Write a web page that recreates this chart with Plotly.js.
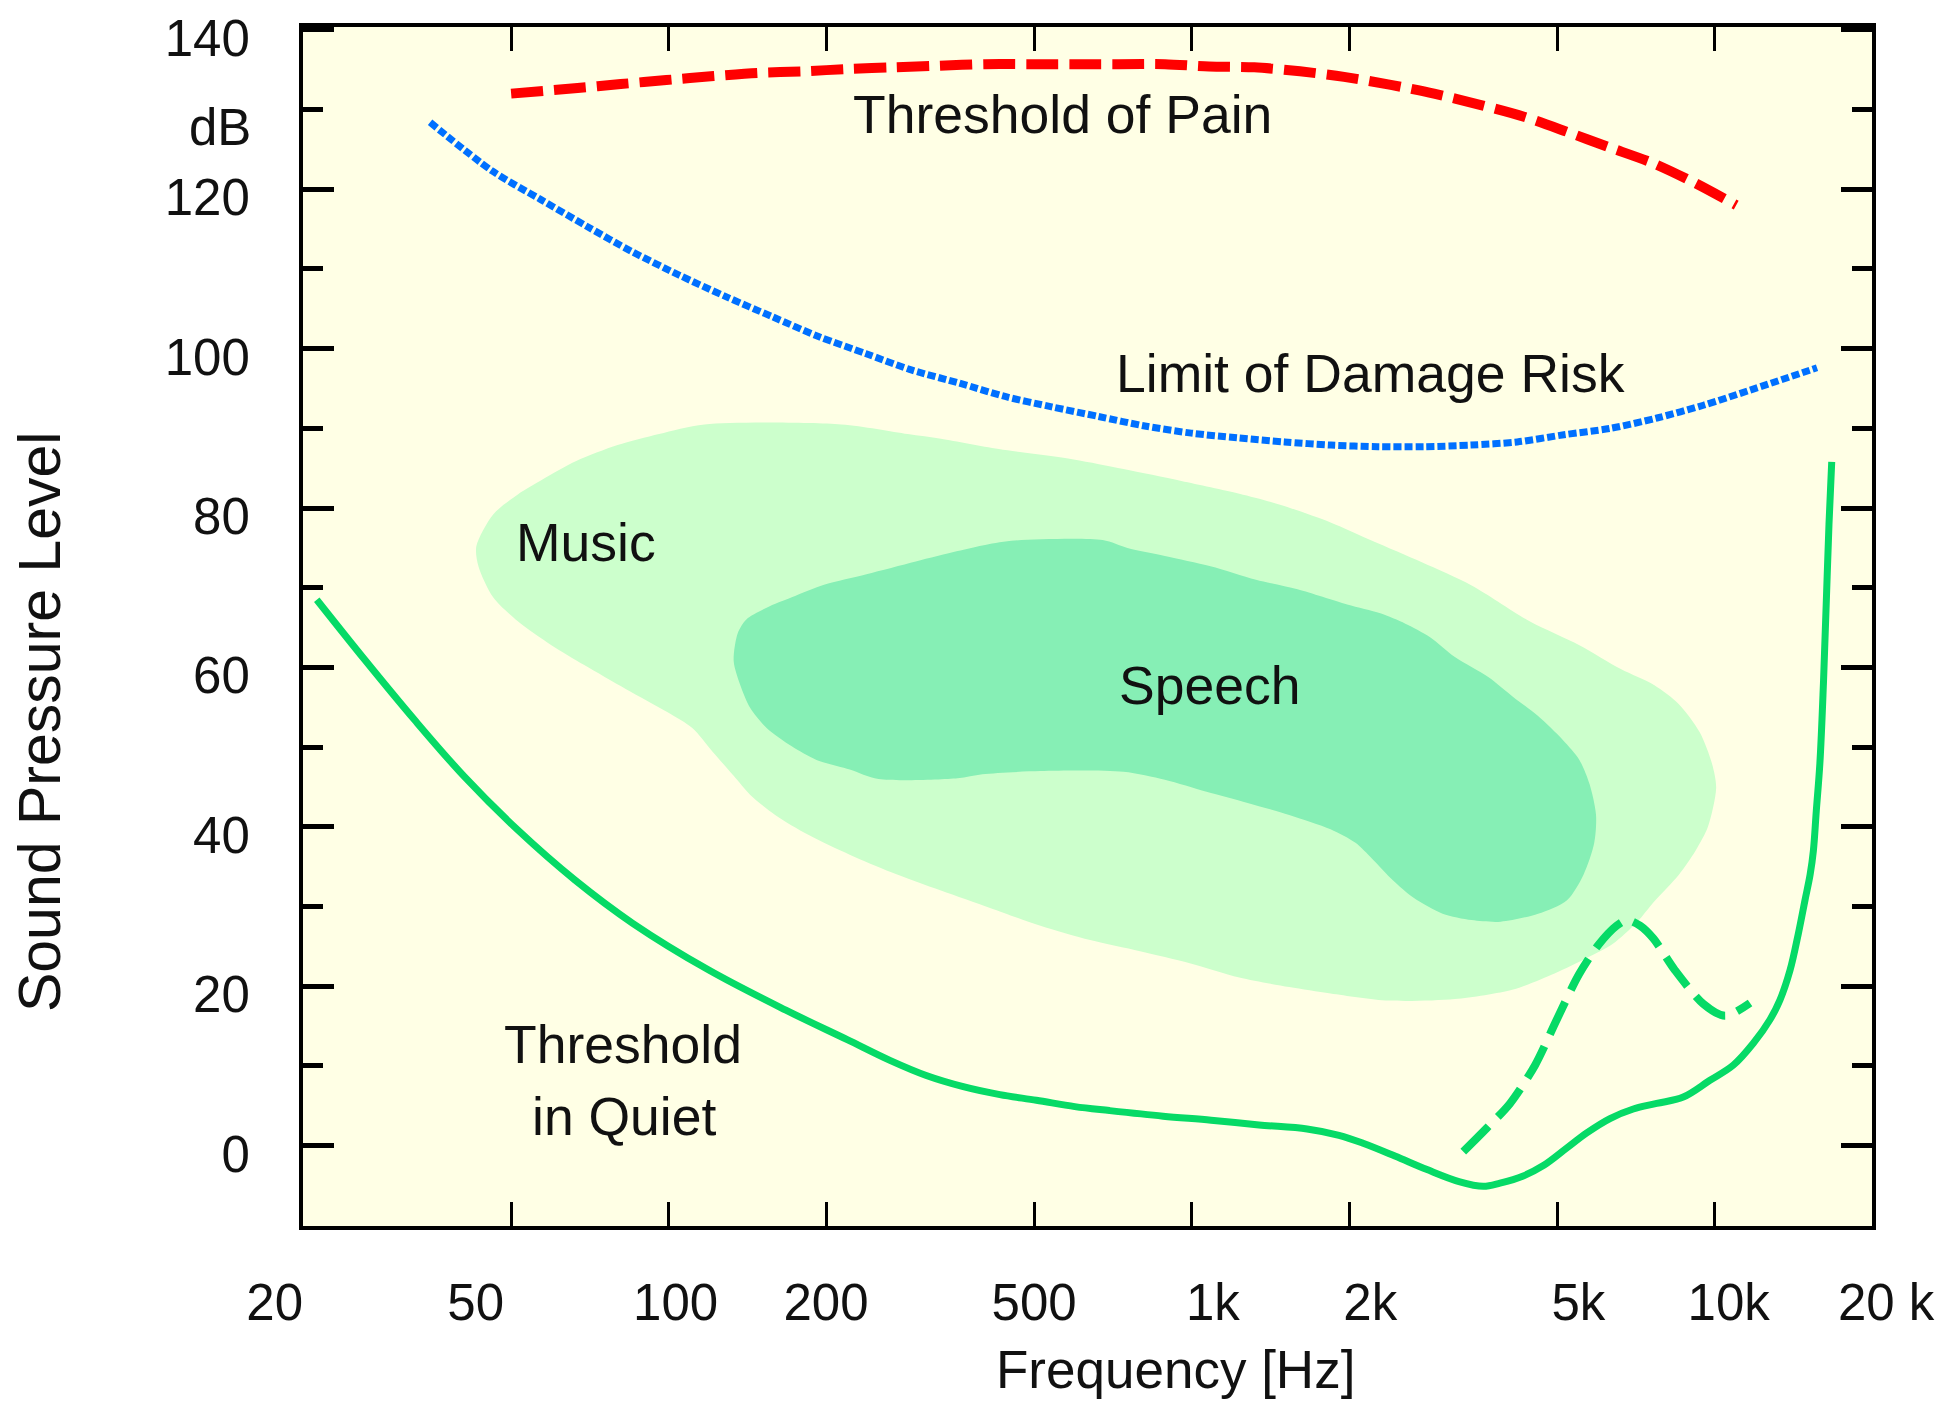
<!DOCTYPE html>
<html>
<head>
<meta charset="utf-8">
<script src="https://cdn.plot.ly/plotly-3.0.1.min.js"></script>
<style>
  html, body { margin: 0; padding: 0; background: #ffffff; }
  #chart { width: 1952px; height: 1404px; }
</style>
</head>
<body>
<div id="chart"></div>
<script>
// ---------- data ----------
const painFreq  = [50, 67, 81, 99, 122, 148, 180, 223, 269, 329, 403, 489, 597, 726, 889, 1080, 1318, 1612, 1957, 2404, 2908, 3560, 4320, 5225, 6268, 7610, 9165, 11000];
const painLevel = [132.0, 132.7, 133.2, 133.7, 134.2, 134.6, 134.8, 135.1, 135.3, 135.5, 135.7, 135.7, 135.7, 135.7, 135.7, 135.4, 135.3, 134.8, 134.1, 133.1, 132.0, 130.6, 129.1, 127.2, 125.3, 123.3, 120.8, 118.0];

const damageFreq  = [35, 46, 57, 70, 85, 105, 129, 158, 194, 238, 292, 359, 440, 540, 663, 814, 999, 1227, 1506, 1848, 2270, 2785, 3420, 4196, 5152, 6320, 7760, 9520, 11700, 15700];
const damageLevel = [128.4, 122.3, 118.7, 115.3, 112.2, 109.2, 106.5, 104.0, 101.5, 99.4, 97.3, 95.7, 94.0, 92.7, 91.5, 90.3, 89.4, 88.8, 88.3, 87.9, 87.7, 87.7, 87.9, 88.3, 89.2, 90.0, 91.3, 92.9, 94.8, 97.6];

const quietFreq  = [21.25, 26.3, 32.7, 40.7, 51.5, 66.3, 85.4, 119.6, 167.6, 219.6, 265, 311, 366, 430, 505, 598, 697, 882, 1090, 1346, 1663, 1914, 2128, 2448, 2820, 3246, 3612, 3888, 4308, 4706, 5217, 5697, 6310, 6992, 7752, 8714, 9800, 10860, 11860, 12760, 13340, 13940, 14460, 14890, 15230, 15450, 15650, 15900, 16150, 16350, 16550, 16750];
const quietLevel = [68.5, 60.9, 53.4, 46.3, 39.6, 33.3, 27.9, 22.0, 17.0, 13.3, 10.7, 8.8, 7.4, 6.4, 5.7, 4.9, 4.4, 3.7, 3.2, 2.6, 2.1, 1.3, 0.3, -1.3, -3.0, -4.5, -5.1, -4.7, -3.8, -2.5, -0.3, 1.6, 3.4, 4.6, 5.3, 6.1, 8.2, 10.1, 12.85, 15.8, 18.3, 22.0, 26.6, 30.8, 34.0, 37.0, 42.0, 48.0, 58.0, 68.0, 78.0, 85.8];

const maskFreq  = [3308, 3668, 4064, 4537, 4991, 5506, 6000, 6500, 6800, 7200, 7636, 8402, 9516, 10470, 11690];
const maskLevel = [-0.75, 2.2, 5.3, 10.1, 15.8, 21.5, 25.2, 27.6, 28.3, 27.6, 26.0, 22.0, 17.8, 16.3, 17.9];

const musicFreq  = [117.2, 214, 286.7, 331.7, 428, 595, 741, 956, 1234, 1482, 1844, 2214, 2756, 3432, 4429, 5515, 6618, 7660, 8546, 9362, 9892, 10070, 9712, 9196, 8546, 7660, 7120, 6383, 5722, 4944, 4120, 3188, 2382, 1844, 1537, 1234, 992, 797, 640, 514, 413, 331.7, 266.6, 222, 185, 159.9, 143.3, 133.2, 121.5, 111, 99.4, 82.8, 69, 59.7, 51.5, 46.2, 43.3, 42.9, 46.2, 51.5, 57.5, 66.6, 79.9, 95.9, 117.2];
const musicLevel = [90.5, 90.5, 89.3, 88.7, 87.4, 86.1, 84.9, 83.4, 81.8, 80.4, 78.2, 75.9, 73.2, 70.3, 65.8, 62.8, 59.8, 57.8, 55.4, 51.9, 47.9, 44.9, 40.0, 37.0, 34.0, 30.6, 28.1, 25.3, 23.6, 21.6, 19.6, 18.4, 18.2, 19.1, 19.9, 21.1, 22.9, 24.4, 25.8, 27.6, 29.8, 32.0, 34.3, 36.5, 39.0, 41.5, 44.0, 46.4, 49.4, 52.4, 54.4, 57.3, 60.3, 62.8, 65.8, 68.8, 72.7, 75.2, 79.2, 81.7, 83.6, 85.9, 87.9, 89.3, 90.5];

const speechFreq  = [452, 676, 754, 889, 1087, 1328, 1594, 1984, 2296, 2563, 2858, 3188, 3692, 4120, 4598, 5128, 5515, 5765, 5934, 5888, 5616, 5222, 4598, 3900, 3432, 3020, 2658, 2426, 2214, 2058, 1844, 1537, 1280, 1068, 889, 741, 514, 398, 357, 252, 222, 191.8, 172, 154, 143.3, 137.1, 133.2, 135.6, 140.7, 154, 172, 199, 239, 297, 357, 398, 452];
const speechLevel = [75.9, 76.0, 75.0, 74.0, 72.7, 71.0, 69.8, 67.9, 66.8, 65.5, 63.8, 61.3, 58.8, 56.3, 53.9, 50.9, 48.4, 45.4, 41.5, 38.0, 34.0, 30.8, 29.1, 28.1, 28.3, 29.1, 31.1, 33.3, 36.0, 38.0, 39.7, 41.5, 43.0, 44.4, 45.9, 46.9, 47.0, 46.6, 46.1, 46.0, 47.2, 48.4, 50.1, 52.4, 54.9, 57.8, 60.8, 64.3, 66.0, 67.5, 68.8, 70.4, 71.7, 73.3, 74.6, 75.3, 75.9];

const xTickVals   = [20, 50, 100, 200, 500, 1000, 2000, 5000, 10000, 20000];
const xTickLabels = ['20', '50', '100', '200', '500', '1k', '2k', '5k', '10k', '20 k'];
const yTickVals   = [0, 20, 40, 60, 80, 100, 120, 140];
const yMinorVals  = [10, 30, 50, 70, 90, 110, 130];

// ---------- styling ----------
const FONT = '"Liberation Sans", Arial, sans-serif';
const TXT = '#111111';
// label nudges (non-breaking spaces; negative = trailing, positive = leading)
const xLabelNudge = [-4, -5, 1, 0, 0, 3, 3, 3, 2, 2];
const NB = '\u00a0';
const xTickText = xTickLabels.map((t, i) => {
  const n = xLabelNudge[i];
  return n < 0 ? t + NB.repeat(-n) : NB.repeat(n) + t;
});

const traces = [
  { x: musicFreq, y: musicLevel, type: 'scatter', mode: 'lines', fill: 'toself',
    fillcolor: '#CCFFCC', line: { width: 0, shape: 'spline', smoothing: 0.8 }, hoverinfo: 'skip' },
  { x: speechFreq, y: speechLevel, type: 'scatter', mode: 'lines', fill: 'toself',
    fillcolor: '#86EFB5', line: { width: 0, shape: 'spline', smoothing: 0.8 }, hoverinfo: 'skip' },
  { x: painFreq, y: painLevel, type: 'scatter', mode: 'lines',
    line: { color: '#FF0000', width: 10, dash: '32px,11px', shape: 'spline', smoothing: 0.8 } },
  { x: damageFreq, y: damageLevel, type: 'scatter', mode: 'lines',
    line: { color: '#0070FF', width: 7, dash: '8px,3px', shape: 'spline', smoothing: 0.8 } },
  { x: quietFreq, y: quietLevel, type: 'scatter', mode: 'lines',
    line: { color: '#06DA66', width: 7, shape: 'spline', smoothing: 1 } },
  { x: maskFreq, y: maskLevel, type: 'scatter', mode: 'lines',
    line: { color: '#06DA66', width: 8, dash: '36px,13px', shape: 'spline', smoothing: 0.8 } }
];

const ann = (text, x, y, size, extra) => Object.assign({
  text: text, x: x, y: y, xref: 'x', yref: 'y', showarrow: false,
  xanchor: 'center', yanchor: 'middle',
  font: { family: FONT, size: size, color: TXT }
}, extra || {});

const LABEL = 53.5;
const layout = {
  width: 1952, height: 1404,
  margin: { l: 303, r: 80, t: 27, b: 178, pad: 0 },
  paper_bgcolor: '#FFFFFF',
  plot_bgcolor: '#FFFFE5',
  showlegend: false,
  xaxis: {
    type: 'log',
    range: [Math.log10(20), Math.log10(20000)],
    tickmode: 'array', tickvals: xTickVals, ticktext: xTickText,
    ticks: 'inside', ticklen: 24, tickwidth: 3, tickcolor: '#000',
    showline: true, linewidth: 4, linecolor: '#000', mirror: 'ticks',
    showgrid: false, zeroline: false, automargin: false,
    ticklabelstandoff: 29, ticklabeloverflow: 'allow',
    tickfont: { family: FONT, size: 51, color: TXT }
  },
  yaxis: {
    range: [-10.08, 140.36],
    tickmode: 'array', tickvals: yTickVals,
    ticks: 'inside', ticklen: 31, tickwidth: 5, tickcolor: '#000',
    minor: { tickmode: 'array', tickvals: yMinorVals, ticks: 'inside', ticklen: 20, tickwidth: 5, tickcolor: '#000', showgrid: false },
    showline: true, linewidth: 4, linecolor: '#000', mirror: 'ticks',
    showgrid: false, zeroline: false, automargin: false,
    ticklabelstandoff: 39, ticklabelshift: 8, ticklabeloverflow: 'allow',
    tickfont: { family: FONT, size: 51, color: TXT }
  },
  annotations: [
    ann('Threshold of Pain', 2.7532, 129.4, LABEL),
    ann('Limit of Damage Risk', 3.3421, 96.9, LABEL),
    ann('Music', 1.8416, 75.7, LABEL),
    ann('Speech', 3.0337, 57.7, LABEL),
    ann('Threshold', 1.9138, 12.7, LABEL),
    ann('in Quiet', 1.9157, 3.6, LABEL),
    { text: 'dB', xref: 'paper', x: 0, xanchor: 'right', xshift: -50, yref: 'y', y: 127.8, yanchor: 'middle',
      showarrow: false, font: { family: FONT, size: 51, color: TXT } },
    { text: 'Frequency [Hz]', xref: 'paper', x: 0.5564, yref: 'paper', y: -0.1193,
      xanchor: 'center', yanchor: 'middle', showarrow: false,
      font: { family: FONT, size: 53, color: TXT } },
    { text: 'Sound Pressure Level', xref: 'paper', x: -0.1676, yref: 'paper', y: 0.4203,
      xanchor: 'center', yanchor: 'middle', textangle: -90, showarrow: false,
      font: { family: FONT, size: 59, color: TXT } }
  ]
};

Plotly.newPlot('chart', traces, layout, { displayModeBar: false, staticPlot: true });
</script>
</body>
</html>
